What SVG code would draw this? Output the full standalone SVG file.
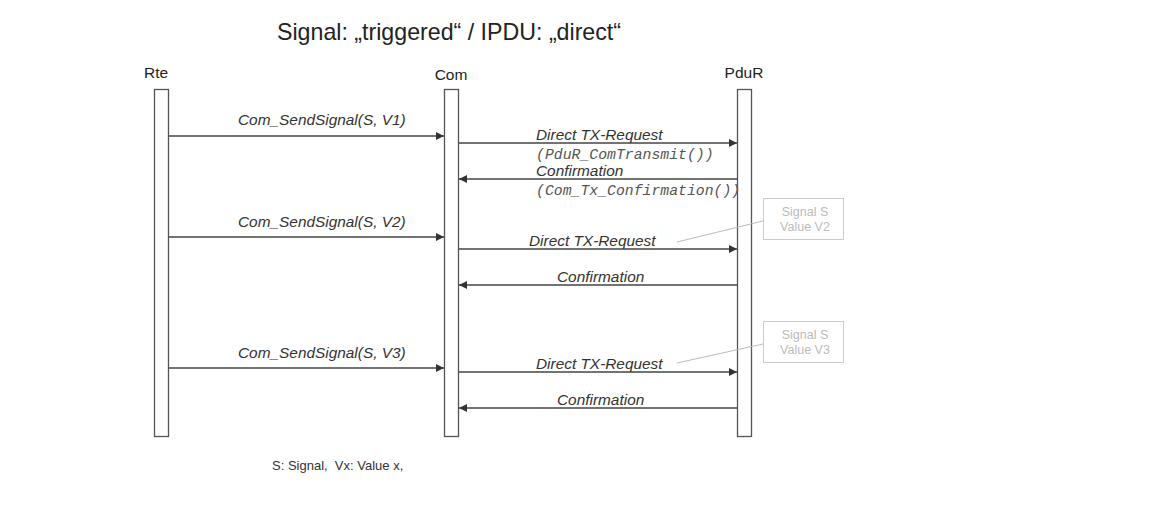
<svg xmlns="http://www.w3.org/2000/svg" width="1153" height="506" viewBox="0 0 1153 506">
<defs>
<marker id="ah" viewBox="0 0 10 10" refX="10" refY="5" markerWidth="10" markerHeight="8" markerUnits="userSpaceOnUse" orient="auto">
<path d="M0,0 L10,5 L0,10 z" fill="#333"/>
</marker>
<style>
.bar{fill:#fff;stroke:#555;stroke-width:1.3}
.hdr{font-family:"Liberation Sans",Arial,sans-serif;font-size:15.5px;fill:#222;text-anchor:middle}
.msg{stroke:#444;stroke-width:1.3;fill:none;marker-end:url(#ah)}
.lbl{font-family:"Liberation Sans",Arial,sans-serif;font-size:15.4px;font-style:italic;fill:#333}
.mono{font-family:"Liberation Mono","Courier New",monospace;font-size:14.8px;font-style:italic;fill:#555}
.note{fill:#fff;stroke:#ccc;stroke-width:1}
.ntxt{font-family:"Liberation Sans",Arial,sans-serif;font-size:12.5px;fill:#bbb;text-anchor:middle}
.lead{stroke:#bbb;stroke-width:1;fill:none}
</style>
</defs>
<rect width="1153" height="506" fill="#fff"/>
<text x="449" y="40" font-family="'Liberation Sans',Arial,sans-serif" font-size="23.2" fill="#222" text-anchor="middle">Signal: „triggered“ / IPDU: „direct“</text>

<g id="rte">
<text class="hdr" x="156" y="78">Rte</text>
<rect class="bar" x="154.5" y="89.5" width="14" height="347"/>
</g>
<g id="com">
<text class="hdr" x="451" y="80">Com</text>
<rect class="bar" x="444.5" y="89.5" width="14" height="347"/>
</g>
<g id="pdur">
<text class="hdr" x="744" y="78">PduR</text>
<rect class="bar" x="737.5" y="89.5" width="14" height="347"/>
</g>

<g id="note-v2">
<rect class="note" x="763.5" y="198.5" width="80" height="41"/>
<text class="ntxt" x="805" y="216">Signal S</text>
<text class="ntxt" x="805" y="231">Value V2</text>
</g>
<g id="note-v3">
<rect class="note" x="763.5" y="321.5" width="80" height="41"/>
<text class="ntxt" x="805" y="339">Signal S</text>
<text class="ntxt" x="805" y="354">Value V3</text>
</g>

<g id="connectors">
<line class="msg" x1="169" y1="136" x2="444" y2="136"/>
<line class="msg" x1="459" y1="143" x2="737" y2="143"/>
<line class="msg" x1="737" y1="179" x2="459" y2="179"/>
<line class="msg" x1="169" y1="237" x2="444" y2="237"/>
<line class="msg" x1="459" y1="249" x2="737" y2="249"/>
<line class="msg" x1="737" y1="285" x2="459" y2="285"/>
<line class="msg" x1="169" y1="368" x2="444" y2="368"/>
<line class="msg" x1="459" y1="372" x2="737" y2="372"/>
<line class="msg" x1="737" y1="408" x2="459" y2="408"/>
<line class="lead" x1="763" y1="221" x2="677" y2="242"/>
<line class="lead" x1="763" y1="344" x2="677" y2="363"/>
</g>

<g id="labels">
<text class="lbl" x="238" y="125">Com_SendSignal(S, V1)</text>
<text class="lbl" x="536" y="140">Direct TX-Request</text>
<text class="mono" x="536" y="159">(PduR_ComTransmit())</text>
<text class="lbl" x="536" y="176">Confirmation</text>
<text class="mono" x="536" y="195">(Com_Tx_Confirmation())</text>
<text class="lbl" x="238" y="227">Com_SendSignal(S, V2)</text>
<text class="lbl" x="529" y="246">Direct TX-Request</text>
<text class="lbl" x="557" y="282">Confirmation</text>
<text class="lbl" x="238" y="358">Com_SendSignal(S, V3)</text>
<text class="lbl" x="536" y="369">Direct TX-Request</text>
<text class="lbl" x="557" y="405">Confirmation</text>
</g>

<text x="272" y="470" font-family="'Liberation Sans',Arial,sans-serif" font-size="13" fill="#333" xml:space="preserve">S: Signal,  Vx: Value x,</text>
</svg>
